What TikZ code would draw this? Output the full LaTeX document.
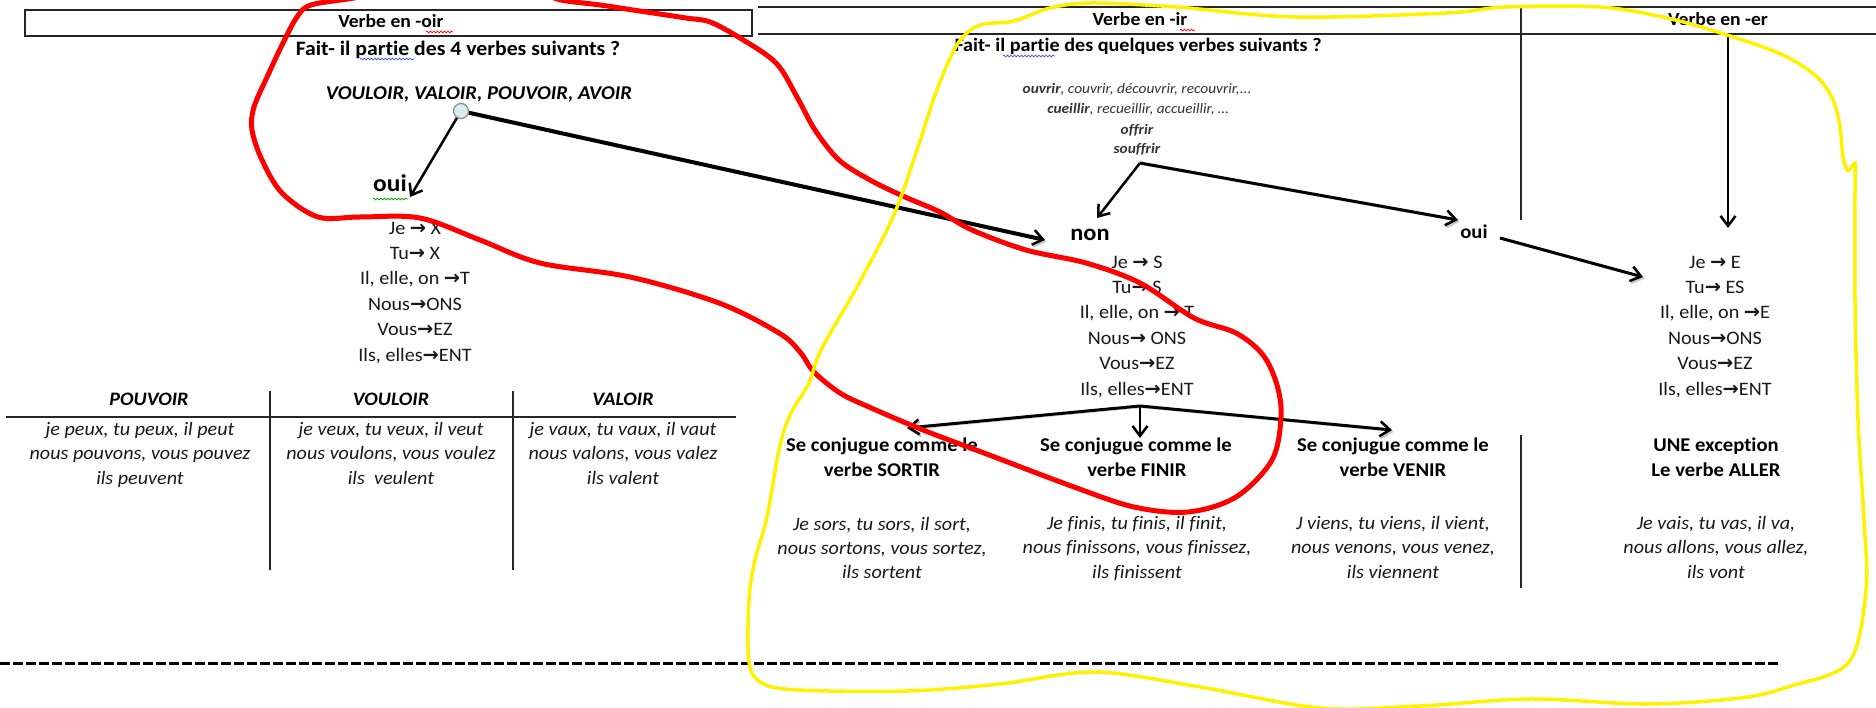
\documentclass[tikz,border=0pt]{standalone}
\usepackage{fontspec}
\setmainfont{Carlito}[FakeStretch=1.06, Ligatures=NoCommon]
\newfontfamily\arrfont{DejaVu Sans}
\usetikzlibrary{arrows.meta,decorations.pathmorphing}
\newcommand\ra{{\arrfont\bfseries\fontsize{1.02em}{1em}\selectfont →}}
\begin{document}
\begin{tikzpicture}[x=1pt,y=-1pt,
  txt/.style={inner sep=0pt, outer sep=0pt, text height=0.64em, text depth=0pt, anchor=center},
  body/.style={txt, font=\fontsize{19}{19}\selectfont, text=black!90},
  bl/.style={txt, font=\fontsize{19.5}{19.5}\selectfont\bfseries},
  hd/.style={txt, font=\fontsize{18.5}{18.5}\selectfont\bfseries},
  qs/.style={txt, font=\fontsize{19}{19}\selectfont\bfseries},
  bi/.style={txt, font=\fontsize{19}{19}\selectfont\bfseries\itshape},
  it/.style={txt, font=\fontsize{19}{19}\selectfont\itshape, text=black!90},
  sm/.style={txt, font=\fontsize{14.5}{14.5}\selectfont\itshape, text=black!80},
  arr/.style={-{Straight Barb[length=10pt,width=15pt,line width=2.5pt]}, line width=2.5pt},
  shad/.style={preaction={draw=black!22, transform canvas={shift={(1.5pt,-1.8pt)}}}},
  rule/.style={line width=1.6pt, black!85},
  squig/.style={decorate, decoration={snake, amplitude=0.9pt, segment length=3.5pt}, line width=0.7pt},
  redpen/.style={line width=5pt, red, line cap=round, line join=round},
  yelpen/.style={line width=3.5pt, yellow, line cap=round, line join=round}
]
\useasboundingbox (0,0) rectangle (1876,708);
\fill[white] (0,0) rectangle (1876,708);

% top header boxes
\draw[rule] (25,10) rectangle (752,36);
\draw[rule] (758,7) -- (1876,7);
\draw[rule] (758,34) -- (1876,34);
\draw[line width=1.4pt, black!85] (1521,7) -- (1521,220);

\node[hd] (hA) at (391,24) {Verbe en -oir};
\node[hd] (hB) at (1140,22) {Verbe en -ir};
\node[hd] (hC) at (1718,22) {Verbe en -er};

\node[txt, font=\fontsize{20.5}{20.5}\selectfont\bfseries] (qA) at (458,52) {Fait- il partie des 4 verbes suivants ?};
\node[qs] (qB) at (1138,48) {Fait- il partie des quelques verbes suivants ?};
\node[txt, font=\fontsize{19.5}{19.5}\selectfont\bfseries\itshape] (vA) at (479,96) {VOULOIR, VALOIR, POUVOIR, AVOIR};

% spell-check marks
\draw[squig, red] (426,32) -- (453,32);
\draw[squig, red] (1180,30) -- (1195,30);
\draw[squig, blue!70] (360,59) -- (414,59);
\draw[squig, blue!70] (1003,56) -- (1055,56);
\draw[squig, green!60!black] (373,199) -- (408,199);

% small verb list
\node[sm] (l1) at (1137,90) {\textbf{ouvrir}, couvrir, découvrir, recouvrir,...};
\node[sm] (l2) at (1138,110) {\textbf{cueillir}, recueillir, accueillir, …};
\node[sm] (l3) at (1137,131) {\textbf{offrir}};
\node[sm] (l4) at (1137,150) {\textbf{souffrir}};

% choice labels
\node[txt, font=\fontsize{24}{24}\selectfont\bfseries] (ouiL) at (390,188) {oui};
\node[txt, font=\fontsize{23}{23}\selectfont\bfseries] (non) at (1090,237) {non};
\node[txt, font=\fontsize{19.5}{19.5}\selectfont\bfseries] (ouiR) at (1474,235) {oui};

% endings columns
\foreach \t [count=\i] in {{Je \ra\ X},{Tu\ra\ X},{Il, elle, on \ra T},{Nous\ra ONS},{Vous\ra EZ},{Ils, elles\ra ENT}}
  \node[body] (eA\i) at (415,{231+(\i-1)*25.4}) {\t};
\foreach \t [count=\i] in {{Je \ra\ S},{Tu\ra\ S},{Il, elle, on \ra\ T},{Nous\ra\ ONS},{Vous\ra EZ},{Ils, elles\ra ENT}}
  \node[body] (eB\i) at (1137,{265+(\i-1)*25.4}) {\t};
\foreach \t [count=\i] in {{Je \ra\ E},{Tu\ra\ ES},{Il, elle, on \ra E},{Nous\ra ONS},{Vous\ra EZ},{Ils, elles\ra ENT}}
  \node[body] (eC\i) at (1715,{265+(\i-1)*25.4}) {\t};

% table of -oir verbs
\draw[line width=2pt, black!85] (6,417) -- (736,417);
\draw[line width=1.5pt, black!85] (270,391) -- (270,570);
\draw[line width=1.5pt, black!85] (513,391) -- (513,570);
\node[bi] (tP) at (149,402) {POUVOIR};
\node[bi] (tV) at (391,402) {VOULOIR};
\node[bi] (tW) at (623,402) {VALOIR};
\foreach \t [count=\i] in {{je peux, tu peux, il peut},{nous pouvons, vous pouvez},{ils peuvent}}
  \node[it] (rP\i) at (140,{432+(\i-1)*24.5}) {\t};
\foreach \t [count=\i] in {{je veux, tu veux, il veut},{nous voulons, vous voulez},{ils\ \ veulent}}
  \node[it] (rV\i) at (391,{432+(\i-1)*24.5}) {\t};
\foreach \t [count=\i] in {{je vaux, tu vaux, il vaut},{nous valons, vous valez},{ils valent}}
  \node[it] (rW\i) at (623,{432+(\i-1)*24.5}) {\t};

% bottom blocks
\node[bl] (sA1) at (882,448) {Se conjugue comme le};
\node[bl] (sA2) at (882,473) {verbe SORTIR};
\node[bl] (sB1) at (1136,448) {Se conjugue comme le};
\node[bl] (sB2) at (1137,473) {verbe FINIR};
\node[bl] (sC1) at (1393,448) {Se conjugue comme le};
\node[bl] (sC2) at (1393,473) {verbe VENIR};
\node[bl] (sD1) at (1716,448) {UNE exception};
\node[bl] (sD2) at (1716,473) {Le verbe ALLER};
\draw[line width=1.4pt, black!85] (1521,435) -- (1521,588);

\foreach \t [count=\i] in {{Je sors, tu sors, il sort,},{nous sortons, vous sortez,},{ils sortent}}
  \node[it] (cA\i) at (882,{527+(\i-1)*24}) {\t};
\foreach \t [count=\i] in {{Je finis, tu finis, il finit,},{nous finissons, vous finissez,},{ils finissent}}
  \node[it] (cB\i) at (1137,{526+(\i-1)*24.5}) {\t};
\foreach \t [count=\i] in {{J viens, tu viens, il vient,},{nous venons, vous venez,},{ils viennent}}
  \node[it] (cC\i) at (1393,{526+(\i-1)*24.5}) {\t};
\foreach \t [count=\i] in {{Je vais, tu vas, il va,},{nous allons, vous allez,},{ils vont}}
  \node[it] (cD\i) at (1716,{526+(\i-1)*24.5}) {\t};

% dashed separator
\coordinate (dL) at (0,663);
\coordinate (dR) at (1781,663);
\draw[line width=3pt, dash pattern=on 10pt off 3pt] (dL) -- (dR);

% connector points
\node[circle, draw=black!45, fill={rgb,255:red,214;green,238;blue,242}, line width=1.2pt, minimum size=15pt, inner sep=0pt] (cir) at (461,111) {};
\coordinate (t1) at (410,197);
\coordinate (t2) at (1045,240);
\coordinate (f1) at (1140,163);
\coordinate (t3) at (1097,218);
\coordinate (t4) at (1458,220);
\coordinate (s5) at (1500,238);
\coordinate (t5) at (1643,277);
\coordinate (s6) at (1728,37);
\coordinate (t6) at (1728,228);
\coordinate (f2) at (1140,406);
\coordinate (t7a) at (907,428);
\coordinate (t7b) at (1140,438);
\coordinate (t7c) at (1392,430);

\draw[arr] (cir) -- (t1);
\draw[arr, shad, line width=4pt] (cir) -- (t2);
\draw[arr] (f1) -- (t3);
\draw[arr, shad, line width=3pt] (f1) -- (t4);
\draw[arr, shad, line width=3pt] (s5) -- (t5);
\draw[arr, line width=2pt] (s6) -- (t6);
\draw[arr, shad, line width=3pt] (f2) -- (t7a);
\draw[arr, line width=2.5pt] (f2) -- (t7b);
\draw[arr, shad, line width=3pt] (f2) -- (t7c);

% freehand annotations
\draw[redpen] plot[smooth, tension=0.55] coordinates {
 (540,-8) (561,0) (600,5) (633,10) (686,18) (710,22) (740,38) (776,63) (797,97) (815,130) (839,160)
 (870,180) (905,197) (940,212) (972,230) (1026,250) (1086,263) (1140,283) (1194,318) (1236,333)
 (1263,355) (1277,385) (1281,417) (1272,460) (1236,497) (1188,512) (1134,507) (1074,487) (984,453)
 (923,430) (869,407) (840,393) (814,372) (800,352) (779,333) (719,303) (630,277) (540,263) (480,240)
 (420,218) (360,217) (318,217) (282,193) (262,160) (252,130) (254,107) (268,75) (283,43) (297,17)
 (311,5) (354,-2) (380,-8)};
\draw[yelpen] plot[smooth cycle, tension=0.55] coordinates {
 (954,50) (968,32) (984,24) (1014,21) (1050,8) (1092,3) (1176,7) (1296,17) (1446,13) (1506,7)
 (1600,7) (1667,18) (1727,35) (1783,55) (1817,77) (1833,100) (1840,127) (1843,157) (1848,171)
 (1855,163) (1855,185) (1855,300) (1858,420) (1864,520) (1866,590) (1849,662) (1791,686) (1740,698)
 (1646,704) (1530,699) (1420,706) (1320,708) (1200,687) (1095,672) (1000,684) (907,691) (798,690)
 (762,683) (749,662) (749,600) (755,560) (767,517) (779,450) (790,415) (809,383) (821,350)
 (857,287) (893,217) (917,150) (935,95)};
\end{tikzpicture}
\end{document}
